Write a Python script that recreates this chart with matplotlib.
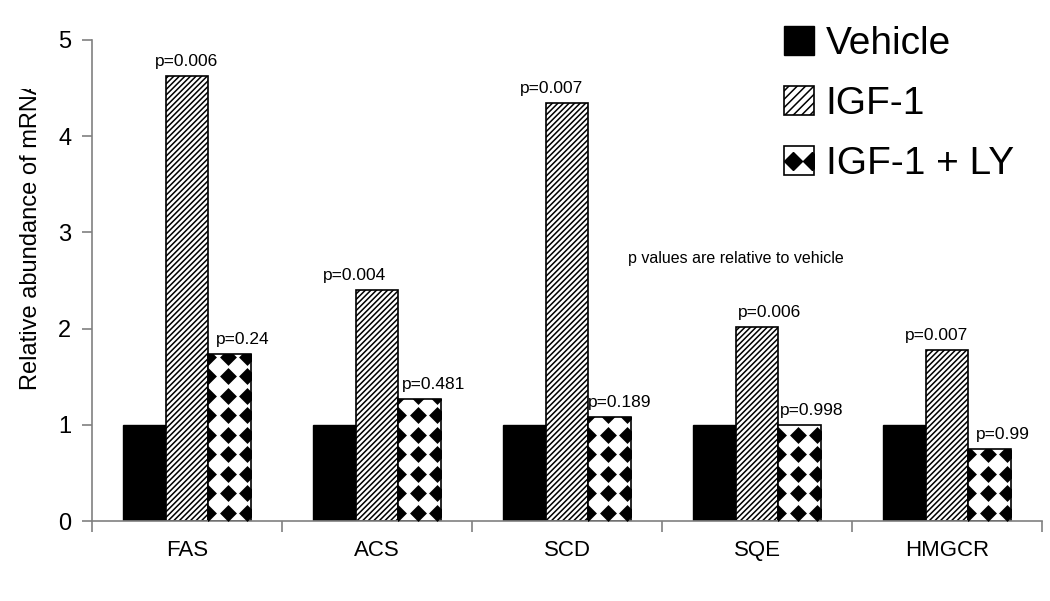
import numpy as np
import matplotlib
matplotlib.use("Agg")
import matplotlib.pyplot as plt
from matplotlib.patches import Rectangle
from matplotlib.lines import Line2D
from matplotlib.legend_handler import HandlerBase
from matplotlib.transforms import Bbox, TransformedBbox

plt.rcParams["font.family"] = ["Liberation Sans", "DejaVu Sans"]
plt.rcParams["hatch.linewidth"] = 1.1

# ── Data ───────────────────────────────────────────────────────────────
genes    = ["FAS", "ACS", "SCD", "SQE", "HMGCR"]
vehicle  = [1.0, 1.0, 1.0, 1.0, 1.0]
igf1     = [4.63, 2.40, 4.35, 2.02, 1.78]
igf1_ly  = [1.74, 1.27, 1.08, 1.00, 0.75]
p_igf1   = ["p=0.006", "p=0.004", "p=0.007", "p=0.006", "p=0.007"]
p_igf1ly = ["p=0.24", "p=0.481", "p=0.189", "p=0.998", "p=0.99"]

# label nudges in pixels (as placed in the original figure)
shift_igf = [0, -22, -15, 13, -10]
shift_ly  = [13, 14, 10, 12, 13]

GRAY = "#808080"
W = 0.226

fig = plt.figure(figsize=(10.5, 6.01), dpi=100)
ax = fig.add_axes([92 / 1050, 1 - 521 / 601, 950 / 1050, 481 / 601])

x = np.arange(len(genes))
b_veh = ax.bar(x - W, vehicle, W, color="black", edgecolor="black", linewidth=1)
b_igf = ax.bar(x, igf1, W, color="white", edgecolor="black", linewidth=1.2,
               hatch="//////")
b_ly  = ax.bar(x + W, igf1_ly, W, color="white", edgecolor="black", linewidth=1.2)

# diamond fill pattern for IGF-1 + LY bars
DX, DY = 19.5 / 190, 19.5 / 96.2
for bar in b_ly:
    x0, w, h = bar.get_x(), bar.get_width(), bar.get_height()
    xs = np.arange(x0, x0 + w + DX, DX)
    ys = np.arange(0.085, h + DY, DY)
    gx, gy = np.meshgrid(xs, ys)
    sc = ax.scatter(gx.ravel(), gy.ravel(), marker="D", s=8.6 ** 2,
                    color="black", linewidths=0, zorder=3)
    sc.set_clip_path(bar)

# p value labels
for i in range(len(genes)):
    ax.annotate(p_igf1[i], (x[i], igf1[i]),
                xytext=(shift_igf[i] * 0.72, 5), textcoords="offset points",
                ha="center", va="bottom", fontsize=12.5)
    ax.annotate(p_igf1ly[i], (x[i] + W, igf1_ly[i]),
                xytext=(shift_ly[i] * 0.72, 5), textcoords="offset points",
                ha="center", va="bottom", fontsize=12.5)

ax.text(2.89, 2.73, "p values are relative to vehicle", ha="center",
        va="center", fontsize=11.5)

# axes styling
ax.set_xlim(-0.5, len(genes) - 0.5)
ax.set_ylim(0, 5)
ax.set_yticks(range(6))
ax.tick_params(axis="y", labelsize=17, color=GRAY, length=7, width=1.2, pad=8)
ax.set_xticks(x)
ax.set_xticklabels(genes, fontsize=16)
ax.tick_params(axis="x", which="major", length=0, pad=14)
ax.set_xticks(np.arange(-0.5, len(genes)), minor=True)
ax.tick_params(axis="x", which="minor", length=8, color=GRAY, width=1.2)
for side in ["top", "right"]:
    ax.spines[side].set_visible(False)
for side in ["left", "bottom"]:
    ax.spines[side].set_color(GRAY)
    ax.spines[side].set_linewidth(1.2)

# y label, cut off at the top like the original
yl = fig.text(31 / 1050, 1 - 390 / 601, "Relative abundance of mRNA",
              rotation=90, ha="center", va="bottom", fontsize=17)
yl.set_clip_box(TransformedBbox(Bbox([[0, 0], [1, 1 - 89 / 601]]),
                                fig.transFigure))
yl.set_clip_on(True)


# legend with a diamond-pattern handle
class DiamondHandler(HandlerBase):
    def create_artists(self, legend, orig, xd, yd, width, height, fontsize, trans):
        rect = Rectangle((-xd, -yd), width, height, facecolor="white",
                         edgecolor="black", linewidth=1.2, transform=trans)
        dots = Line2D([-xd + width * 0.3, -xd + width * 0.95],
                      [-yd + height * 0.5] * 2, marker="D", markersize=9,
                      linestyle="none", color="black", transform=trans)
        dots.set_clip_path(rect)
        return [rect, dots]


h_veh = Rectangle((0, 0), 1, 1, facecolor="black", edgecolor="black")
h_igf = Rectangle((0, 0), 1, 1, facecolor="white", edgecolor="black",
                  hatch="////", linewidth=1.2)
h_ly = Rectangle((0, 0), 1, 1, facecolor="white", edgecolor="black")
leg = fig.legend([h_veh, h_igf, h_ly], ["Vehicle", "IGF-1", "IGF-1 + LY"],
                 handler_map={h_ly: DiamondHandler()},
                 loc="upper left", bbox_to_anchor=(768 / 1050, 1 - 10 / 601),
                 frameon=False, fontsize=28, handlelength=0.78,
                 handleheight=0.78, handletextpad=0.3, labelspacing=0.62,
                 borderaxespad=0)

fig.savefig("out.png", dpi=100)
